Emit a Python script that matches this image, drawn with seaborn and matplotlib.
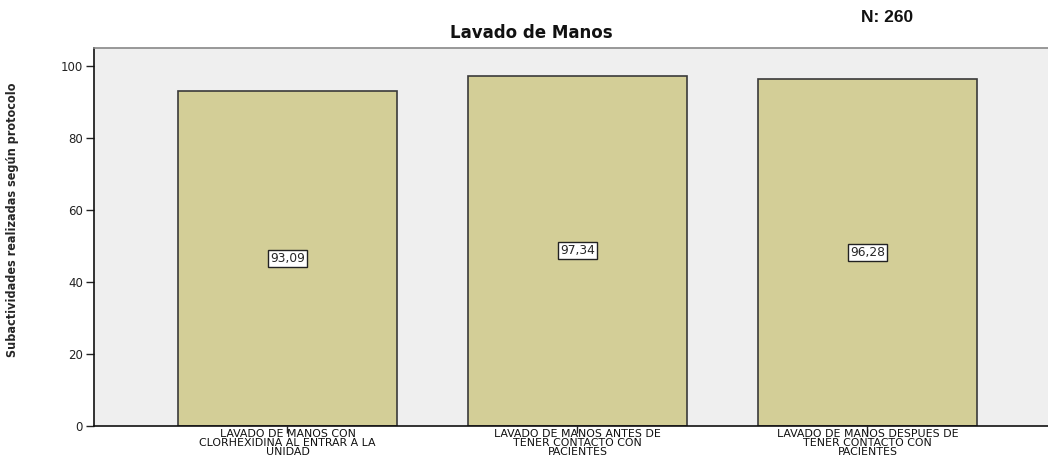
import matplotlib
matplotlib.use("Agg")
import matplotlib.pyplot as plt
import seaborn as sns
import pandas as pd

categories = [
    "LAVADO DE MANOS CON\nCLORHEXIDINA AL ENTRAR A LA\nUNIDAD",
    "LAVADO DE MANOS ANTES DE\nTENER CONTACTO CON\nPACIENTES",
    "LAVADO DE MANOS DESPUES DE\nTENER CONTACTO CON\nPACIENTES",
]
values = [93.09, 97.34, 96.28]
value_labels = ["93,09", "97,34", "96,28"]
yticks = [0, 20, 40, 60, 80, 100]
title = "Lavado de Manos"
ylabel = "Subactividades realizadas según protocolo"
n_text = "N: 260"

sns.set_theme(style="white")
plt.rcParams["font.family"] = ["DejaVu Sans"]

df = pd.DataFrame({"cat": categories, "val": values})

fig = plt.figure(figsize=(10.48, 4.61), dpi=100)
ax = fig.add_axes([94 / 1048, 1 - 426 / 461, (1058 - 94) / 1048, (426 - 48) / 461])
ax.set_facecolor("#EFEFEF")

sns.barplot(data=df, x="cat", y="val", color="#D3CE97", width=0.755,
            edgecolor="#3a3a3a", linewidth=1.2, saturation=1, ax=ax)

ax.set_xlim(-0.667, 2.657)
ax.set_ylim(0, 105)
ax.set_yticks(yticks)
ax.set_yticklabels([str(t) for t in yticks], fontsize=8.5, color="#222222")
ax.tick_params(axis="y", direction="out", length=6, width=1, color="#222222", pad=2, left=True)
ax.tick_params(axis="x", direction="out", length=5, width=1, color="#222222", pad=-3, bottom=True)
for lbl in ax.get_xticklabels():
    lbl.set_fontsize(7.9)
    lbl.set_linespacing(0.88)
    lbl.set_color("#111111")

ax.set_xlabel("")
ax.set_ylabel(ylabel, fontsize=9, fontweight="bold", fontstretch="condensed",
              family=["Liberation Sans Narrow", "DejaVu Sans"])
ax.yaxis.set_label_coords(-0.078, 0.545)

for side in ["left", "bottom"]:
    ax.spines[side].set_color("#111111")
    ax.spines[side].set_linewidth(1.2)
ax.spines["top"].set_color("#888888")
ax.spines["top"].set_linewidth(1.2)
ax.spines["right"].set_visible(False)

for i, (v, t) in enumerate(zip(values, value_labels)):
    ax.text(i, v / 2, t, ha="center", va="center", fontsize=8.8,
            bbox=dict(boxstyle="square,pad=0.15", facecolor="white", edgecolor="#222222", linewidth=1))

fig.text(531 / 1048, 1 - 33 / 461, title, ha="center", va="center",
         fontsize=12, fontweight="bold", color="#111111")
fig.text(887 / 1048, 1 - 17 / 461, n_text, ha="center", va="center",
         fontsize=12.5, fontweight="bold", color="#111111",
         family=["Liberation Sans", "DejaVu Sans"])

fig.savefig("out.png", dpi=100, facecolor="white")
